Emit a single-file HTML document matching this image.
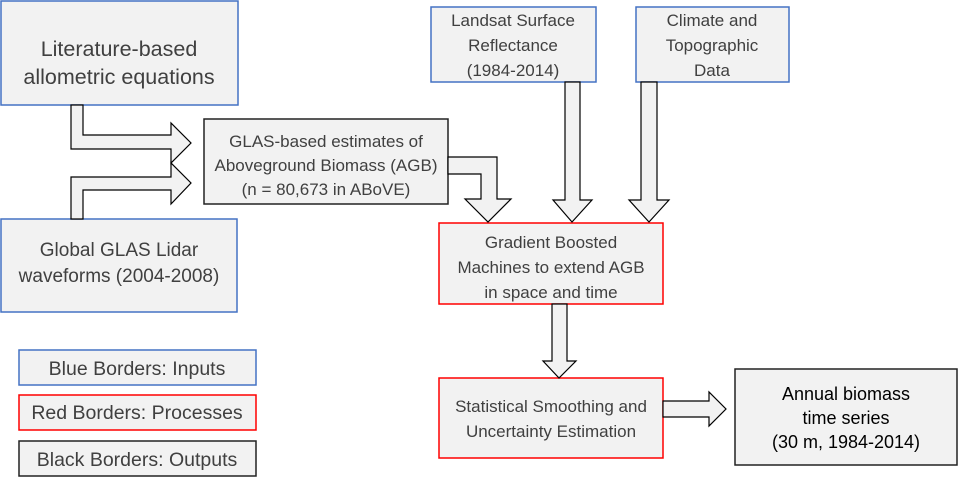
<!DOCTYPE html>
<html><head><meta charset="utf-8"><style>
html,body{margin:0;padding:0;background:#fff;}
svg{display:block;}
text{font-family:"Liberation Sans",sans-serif;fill:#404040;text-anchor:middle;}
</style></head><body>
<svg width="960" height="477" viewBox="0 0 960 477" xmlns="http://www.w3.org/2000/svg">
<g fill="#f2f2f2" stroke-width="1.5">
<rect x="1" y="1" width="237" height="104" stroke="#4472c4"/>
<rect x="1" y="219" width="236" height="93" stroke="#4472c4"/>
<rect x="204" y="119" width="244" height="85" stroke="#222"/>
<rect x="431" y="7" width="165" height="75" stroke="#4472c4"/>
<rect x="636" y="7" width="153" height="75" stroke="#4472c4"/>
<rect x="439" y="223" width="224" height="81" stroke="#f00"/>
<rect x="439" y="378" width="224" height="80" stroke="#f00"/>
<rect x="735" y="369" width="222" height="96" stroke="#222"/>
<rect x="19" y="350" width="237" height="35" stroke="#4472c4"/>
<rect x="19" y="395" width="237" height="35" stroke="#f00"/>
<rect x="19" y="441" width="237" height="35" stroke="#222"/>
</g>
<g fill="#f2f2f2" stroke="#000" stroke-width="1.2" stroke-linejoin="miter">
<polygon points="71,105 83,105 83,135 171,135 171,123 191,143 171,163 171,149 71,149"/>
<polygon points="71,219 71,177 171,177 171,163 191,183 171,204 171,190 83,190 83,219"/>
<polygon points="448,157 497,157 497,199 511,199 488,222 465,199 481,199 481,174 448,174"/>
<polygon points="565,82 580,82 580,200 592,200 572,222 553,200 565,200"/>
<polygon points="641,82 657,82 657,200 669,200 649,222 629,200 641,200"/>
<polygon points="552,304 567,304 567,361 576,361 559,378 543,361 552,361"/>
<polygon points="663,401 709,401 709,392 726,409 709,426 709,417 663,417"/>
</g>
<g font-size="21.5">
<text x="119" y="56">Literature-based</text>
<text x="119" y="84">allometric equations</text>
</g>
<g font-size="19">
<text x="119" y="256">Global GLAS Lidar</text>
<text x="119" y="282">waveforms (2004-2008)</text>
</g>
<g font-size="17">
<text x="326" y="147">GLAS-based estimates of</text>
<text x="326" y="171">Aboveground Biomass (AGB)</text>
<text x="326" y="195">(n = 80,673 in ABoVE)</text>
<text x="513" y="26">Landsat Surface</text>
<text x="513" y="51">Reflectance</text>
<text x="513" y="76">(1984-2014)</text>
<text x="712" y="26">Climate and</text>
<text x="712" y="51">Topographic</text>
<text x="712" y="76">Data</text>
<text x="551" y="248">Gradient Boosted</text>
<text x="551" y="273">Machines to extend AGB</text>
<text x="551" y="298">in space and time</text>
<text x="551" y="412">Statistical Smoothing and</text>
<text x="551" y="437">Uncertainty Estimation</text>
</g>
<g font-size="18">
<text x="846" y="400" style="fill:#000">Annual biomass</text>
<text x="846" y="424" style="fill:#000">time series</text>
<text x="846" y="448" style="fill:#000">(30 m, 1984-2014)</text>
</g>
<g font-size="19.5">
<text x="137" y="375">Blue Borders: Inputs</text>
<text x="137" y="419">Red Borders: Processes</text>
<text x="137" y="466">Black Borders: Outputs</text>
</g>
</svg>
</body></html>
